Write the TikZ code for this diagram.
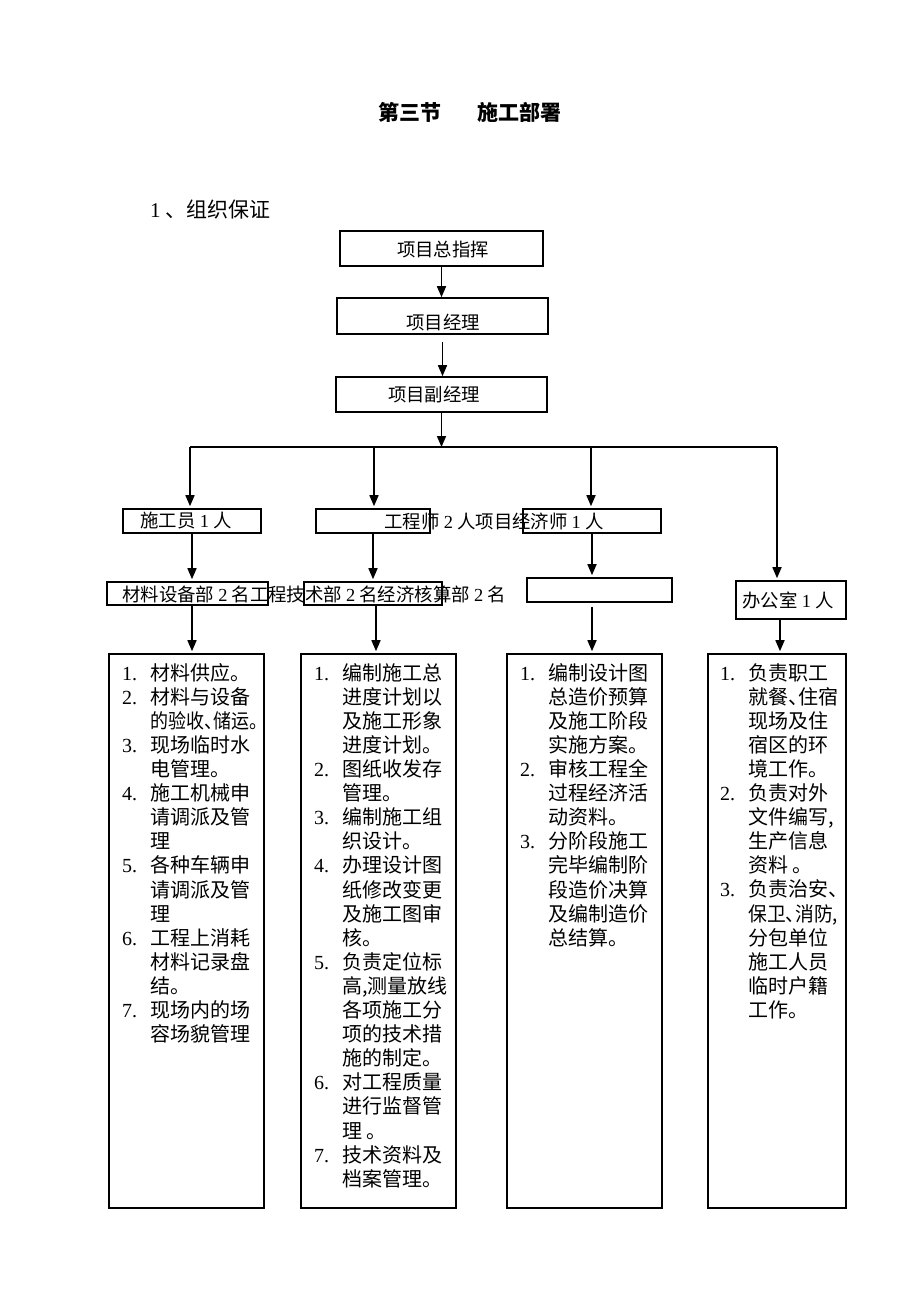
\documentclass[tikz,border=0pt]{standalone}
\usepackage{fontspec}
\usepackage{graphicx}
\setmainfont{Noto Sans CJK SC}
\newfontfamily\lat{Liberation Serif}
\usetikzlibrary{arrows.meta}
\newcommand\dg[1]{{\lat #1}}
\newcommand\hw[1]{\makebox[0.5em][l]{#1}}
\newcommand\itm[2]{\makebox[28pt][l]{\lat #1}#2}
\newcommand\cont[1]{\hspace*{28pt}#1}

\begin{document}
\begin{tikzpicture}[x=1pt, y=-1pt,
  box/.style={draw, line width=1.6pt, inner sep=0pt},
  lbl/.style={inner sep=0pt, font=\fontsize{18.4pt}{22pt}\selectfont},
  lst/.style={anchor=north west, inner sep=0pt, align=left, font=\fontsize{20pt}{24.1pt}\selectfont},
  arr/.style={line width=1.6pt, -{Triangle[length=11pt, width=9pt]}, shorten >=2pt}]
\useasboundingbox (0,0) rectangle (920,1302);

% Define the headings
\node[inner sep=0pt, font=\fontsize{21pt}{25pt}\selectfont\bfseries] (title) at (470,112) {第三节\hspace{37pt}施工部署};
\node[inner sep=0pt, anchor=west, font=\fontsize{21pt}{25pt}\selectfont] (sub) at (150,210) {\dg{1} 、组织保证};

% Define the top boxes
\node[box, minimum width=203pt, minimum height=35pt] (top1) at (441.5,248.5) {};
\node[box, minimum width=211pt, minimum height=36pt] (top2) at (442.5,316) {};
\node[box, minimum width=211pt, minimum height=35pt] (top3) at (441.5,394.5) {};
\node[lbl] (top1t) at (443,250) {项目总指挥};
\node[lbl] (top2t) at (443,322) {项目经理};
\node[lbl] (top3t) at (434,395) {项目副经理};

% Define the second and third rows
\node[box, minimum width=138pt, minimum height=24pt] (r1a) at (192,521) {};
\node[box, minimum width=114pt, minimum height=24pt] (r1b) at (373,521) {};
\node[box, minimum width=138pt, minimum height=24pt] (r1c) at (592,521) {};
\node[lbl] (r1at) at (186,521) {施工员 \dg{1} 人};
\node[lbl] (r1bt) at (494,521) {工程师 \dg{2} 人项目经济师 \dg{1} 人};

\node[box, minimum width=161pt, minimum height=23pt] (r2a) at (187.5,593.5) {};
\node[box, minimum width=138pt, minimum height=23pt] (r2b) at (373,593.5) {};
\node[box, minimum width=145pt, minimum height=24pt] (r2c) at (599.5,590) {};
\node[box, minimum width=110pt, minimum height=38pt] (r2d) at (791,600) {};
\node[lbl] (r2at) at (314,594) {材料设备部 \dg{2} 名工程技术部 \dg{2} 名经济核算部 \dg{2} 名};
\node[lbl] (r2dt) at (788,600) {办公室 \dg{1} 人};

% Define the duty boxes
\node[box, minimum width=155pt, minimum height=554pt] (L1) at (186.5,931) {};
\node[box, minimum width=155pt, minimum height=554pt] (L2) at (378.5,931) {};
\node[box, minimum width=155pt, minimum height=554pt] (L3) at (584.5,931) {};
\node[box, minimum width=138pt, minimum height=554pt] (L4) at (777,931) {};

\node[lst] (L1t) at (122,663) {\itm{1.}{材料供应。}\\ \itm{2.}{材料与设备}\\ \cont{\scalebox{0.9}[1]{的验收\hw{、}储运。}}\\
  \itm{3.}{现场临时水}\\ \cont{电管理。}\\ \itm{4.}{施工机械申}\\ \cont{请调派及管}\\ \cont{理}\\
  \itm{5.}{各种车辆申}\\ \cont{请调派及管}\\ \cont{理}\\ \itm{6.}{工程上消耗}\\ \cont{材料记录盘}\\ \cont{结。}\\
  \itm{7.}{现场内的场}\\ \cont{容场貌管理}};
\node[lst] (L2t) at (314,663) {\itm{1.}{编制施工总}\\ \cont{进度计划以}\\ \cont{及施工形象}\\ \cont{进度计划。}\\
  \itm{2.}{图纸收发存}\\ \cont{管理。}\\ \itm{3.}{编制施工组}\\ \cont{织设计。}\\
  \itm{4.}{办理设计图}\\ \cont{纸修改变更}\\ \cont{及施工图审}\\ \cont{核。}\\
  \itm{5.}{负责定位标}\\ \cont{高,测量放线}\\ \cont{各项施工分}\\ \cont{项的技术措}\\ \cont{施的制定。}\\
  \itm{6.}{对工程质量}\\ \cont{进行监督管}\\ \cont{理 。}\\ \itm{7.}{技术资料及}\\ \cont{档案管理。}};
\node[lst] (L3t) at (520,663) {\itm{1.}{编制设计图}\\ \cont{总造价预算}\\ \cont{及施工阶段}\\ \cont{实施方案。}\\
  \itm{2.}{审核工程全}\\ \cont{过程经济活}\\ \cont{动资料。}\\
  \itm{3.}{分阶段施工}\\ \cont{完毕编制阶}\\ \cont{段造价决算}\\ \cont{及编制造价}\\ \cont{总结算。}};
\node[lst] (L4t) at (720,663) {\itm{1.}{负责职工}\\ \cont{就餐\hw{、}住宿}\\ \cont{现场及住}\\ \cont{宿区的环}\\ \cont{境工作。}\\
  \itm{2.}{负责对外}\\ \cont{文件编写,}\\ \cont{生产信息}\\ \cont{资料 。}\\
  \itm{3.}{负责治安、}\\ \cont{\scalebox{0.94}[1]{保卫\hw{、}消防,}}\\ \cont{分包单位}\\ \cont{施工人员}\\ \cont{临时户籍}\\ \cont{工作。}};

% Define the bus line
\coordinate (b1) at (190,447);
\coordinate (b2) at (374,447);
\coordinate (b3) at (591,447);
\coordinate (b4) at (777,447);
\draw[line width=1.6pt] (b1) -- (b4);

% Define the arrows
\draw[arr, shorten >=0pt] (top1.south) -- (top1.south |- top2.north);
\draw[arr, shorten >=0pt, shorten <=7pt] (top2.south) -- (top2.south |- top3.north);
\draw[arr, shorten >=0pt] (top3.south) -- (top3.south |- b2);
\draw[arr] (b1) -- (b1 |- r1a.north);
\draw[arr] (b2) -- (b2 |- r1b.north);
\draw[arr] (b3) -- (b3 |- r1c.north);
\draw[arr] (b4) -- (b4 |- r2d.north);
\draw[arr] (r1a.south) -- (r1a.south |- r2a.north);
\draw[arr] (r1b.south) -- (r1b.south |- r2b.north);
\draw[arr] (r1c.south) -- (r1c.south |- r2c.north);
\draw[arr] (r1a |- r2a.south) -- (r1a |- L1.north);
\draw[arr] ([xshift=3pt]r2b.south) -- ([xshift=3pt]r2b.south |- L2.north);
\draw[arr, shorten <=4pt] (r1c |- r2c.south) -- (r1c |- L3.north);
\draw[arr] ([xshift=-11pt]r2d.south) -- ([xshift=-11pt]r2d.south |- L4.north);
\end{tikzpicture}
\end{document}
